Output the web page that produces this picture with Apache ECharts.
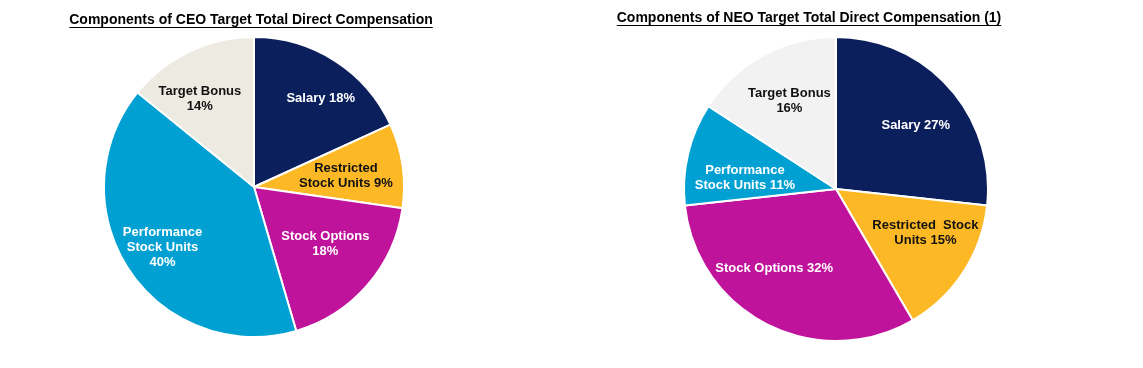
<!DOCTYPE html>
<html>
<head>
<meta charset="utf-8">
<script src="https://cdn.jsdelivr.net/npm/echarts@6/dist/echarts.min.js"></script>
<style>
html,body{margin:0;padding:0;background:#fff;}
#main{width:1143px;height:368px;}
</style>
</head>
<body>
<div id="main"></div>
<script>
// ---- data ----
var ceoTitle = 'Components of CEO Target Total Direct Compensation';
var neoTitle = 'Components of NEO Target Total Direct Compensation (1)';

var ceoCategories = ['Salary', 'Restricted Stock Units', 'Stock Options', 'Performance Stock Units', 'Target Bonus'];
var ceoValues = [18, 9, 18, 40, 14];
var ceoLabels = ['Salary 18%', 'Restricted\nStock Units 9%', 'Stock Options\n18%', 'Performance\nStock Units\n40%', 'Target Bonus\n14%'];

var neoCategories = ['Salary', 'Restricted Stock Units', 'Stock Options', 'Performance Stock Units', 'Target Bonus'];
var neoValues = [27, 15, 32, 11, 16];
var neoLabels = ['Salary 27%', 'Restricted  Stock\nUnits 15%', 'Stock Options 32%', 'Performance\nStock Units 11%', 'Target Bonus\n16%'];

// ---- styles ----
var ceoColors = ['#0B1F5C', '#FDB825', '#C0139B', '#00A0D2', '#EDEAE1'];
var neoColors = ['#0B1F5C', '#FDB825', '#C0139B', '#00A0D2', '#F2F2F2'];
var ceoTextColors = ['#fff', '#111', '#fff', '#fff', '#111'];
var neoTextColors = ['#fff', '#111', '#fff', '#fff', '#111'];
var ceoLabelNudge = [[10, 0], [-12, 4], [-8, -12], [-4, 2], [-9, 7]];
var neoLabelNudge = [[4, 4], [4, -11], [-16, -11], [8, 12], [2, 1]];
var FONT = '"Liberation Sans", Arial, sans-serif';

function pieData(cats, vals, colors) {
  return cats.map(function (c, i) {
    return { name: c, value: vals[i], itemStyle: { color: colors[i] } };
  });
}
function labelData(cats, vals, labels, tcolors) {
  return cats.map(function (c, i) {
    return { name: c, value: vals[i],
      label: { formatter: labels[i], color: tcolors[i] } };
  });
}

function pieSeries(center, r, data) {
  return {
    type: 'pie', center: center, radius: [0, r], startAngle: 90, clockwise: true,
    animation: false, silent: true,
    label: { show: false }, labelLine: { show: false },
    itemStyle: { borderColor: '#fff', borderWidth: 2 },
    data: data
  };
}
function labelSeries(center, r, k, data, nudge) {
  return {
    type: 'pie', center: center, radius: [0, r * k * 2], startAngle: 90, clockwise: true,
    animation: false, silent: true, z: 5,
    itemStyle: { color: 'transparent', borderWidth: 0 },
    labelLine: { show: false },
    label: { show: true, position: 'inside', fontFamily: FONT, fontWeight: 'bold',
      fontSize: 13, lineHeight: 15, align: 'center' },
    labelLayout: function (p) {
      var n = nudge[p.dataIndex];
      return { dx: n[0], dy: n[1] };
    },
    data: data
  };
}

var measureCtx = document.createElement('canvas').getContext('2d');
function titleGraphic(text, cx, y) {
  var font = 'bold 14px ' + FONT;
  measureCtx.font = font;
  var w = measureCtx.measureText(text).width;
  return [
    { type: 'text', left: cx - w / 2, top: y, silent: true,
      style: { text: text, font: font, fill: '#000' } },
    { type: 'rect', silent: true, shape: { x: cx - w / 2, y: y + 14, width: w, height: 1 },
      style: { fill: '#000' } }
  ];
}

var chart = echarts.init(document.getElementById('main'), null, { renderer: 'canvas' });
var ceoCenter = [254, 187], ceoR = 150;
var neoCenter = [836, 189], neoR = 152;
chart.setOption({
  backgroundColor: '#fff',
  animation: false,
  graphic: titleGraphic(ceoTitle, 251, 13).concat(titleGraphic(neoTitle, 809, 11)),
  series: [
    pieSeries(ceoCenter, ceoR, pieData(ceoCategories, ceoValues, ceoColors)),
    labelSeries(ceoCenter, ceoR, 0.68, labelData(ceoCategories, ceoValues, ceoLabels, ceoTextColors), ceoLabelNudge),
    pieSeries(neoCenter, neoR, pieData(neoCategories, neoValues, neoColors)),
    labelSeries(neoCenter, neoR, 0.65, labelData(neoCategories, neoValues, neoLabels, neoTextColors), neoLabelNudge)
  ]
});
</script>
</body>
</html>
